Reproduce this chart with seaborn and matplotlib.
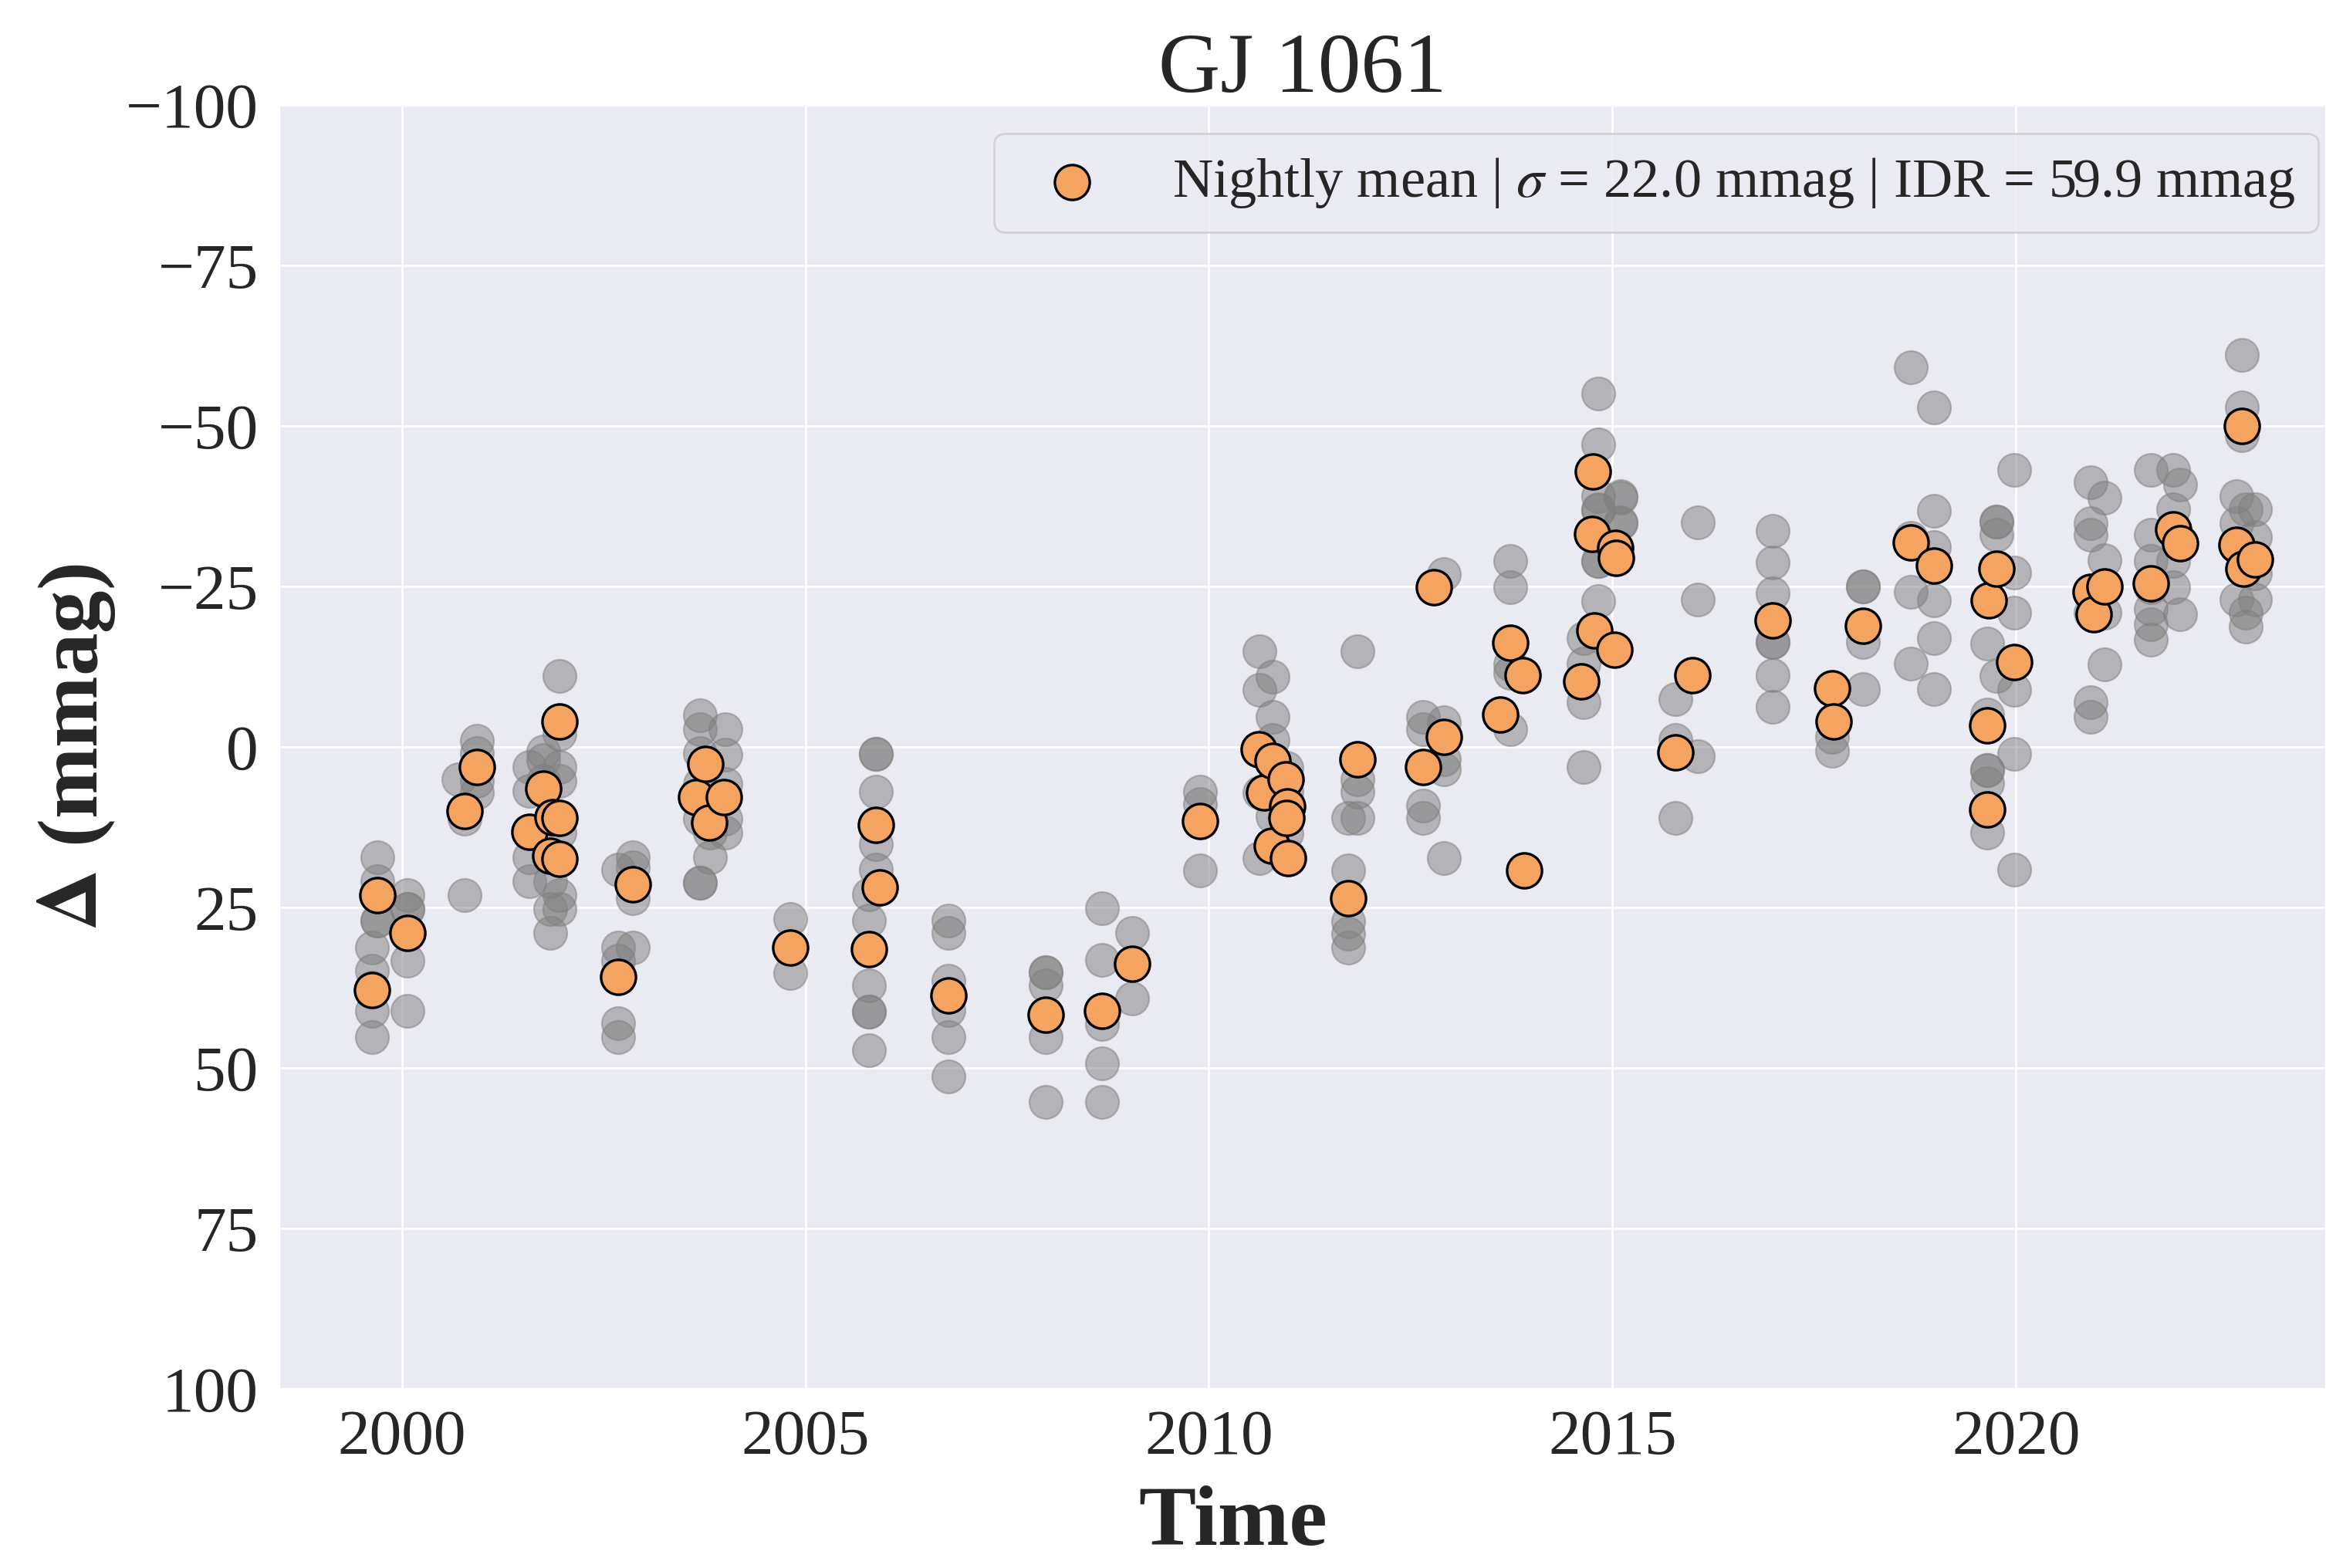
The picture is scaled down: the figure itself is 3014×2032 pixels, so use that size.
import numpy as np
import pandas as pd
import matplotlib
matplotlib.use('Agg')
import matplotlib.pyplot as plt
import seaborn as sns

# Individual measurements (grey) - decimal year, delta mag [mmag]
obs_time = [
    1999.63, 1999.63, 1999.63, 1999.63, 1999.63,
    1999.70, 1999.70, 1999.70, 1999.70, 1999.70,
    2000.07, 2000.07, 2000.07, 2000.07, 2000.07,
    2000.70, 2000.78, 2000.78, 2000.78,
    2000.93, 2000.93, 2000.93, 2000.93,
    2001.58, 2001.58, 2001.58, 2001.58, 2001.58,
    2001.75, 2001.75, 2001.75,
    2001.95, 2001.95, 2001.95, 2001.95, 2001.95, 2001.95, 2001.95,
    2001.84, 2001.84, 2001.84,
    2002.68, 2002.68, 2002.68, 2002.68, 2002.68,
    2002.86, 2002.86, 2002.86, 2002.86,
    2003.69, 2003.69, 2003.69, 2003.69, 2003.69, 2003.69, 2003.69,
    2003.82, 2003.82, 2003.82,
    2004.01, 2004.01, 2004.01, 2004.01, 2004.01,
    2004.81, 2004.81,
    2005.87, 2005.87, 2005.87, 2005.87, 2005.87,
    2005.79, 2005.79, 2005.79, 2005.79, 2005.79, 2005.79,
    2006.77, 2006.77, 2006.77, 2006.77, 2006.77, 2006.77,
    2007.98, 2007.98, 2007.98, 2007.98, 2007.98,
    2008.68, 2008.68, 2008.68, 2008.68, 2008.68,
    2009.05, 2009.05,
    2009.89, 2009.89, 2009.89,
    2010.63, 2010.63, 2010.63, 2010.63,
    2010.79, 2010.79, 2010.79, 2010.79,
    2010.96, 2010.96, 2010.96,
    2011.84, 2011.84, 2011.84, 2011.84,
    2011.73, 2011.73, 2011.73, 2011.73, 2011.73,
    2012.65, 2012.65, 2012.65, 2012.65,
    2012.91, 2012.91, 2012.91, 2012.91, 2012.91,
    2013.73, 2013.73, 2013.73, 2013.73, 2013.73,
    2014.64, 2014.64, 2014.64, 2014.64,
    2014.82, 2014.82, 2014.82, 2014.82, 2014.82, 2014.82, 2014.82, 2014.82,
    2015.10, 2015.10, 2015.10, 2015.10,
    2016.06, 2016.06, 2016.06,
    2015.78, 2015.78, 2015.78,
    2016.98, 2016.98, 2016.98, 2016.98, 2016.98, 2016.98, 2016.98,
    2017.72, 2017.72, 2017.72,
    2018.10, 2018.10, 2018.10, 2018.10,
    2018.70, 2018.70, 2018.70, 2018.70,
    2018.98, 2018.98, 2018.98, 2018.98, 2018.98, 2018.98,
    2019.64, 2019.64, 2019.64, 2019.64, 2019.64, 2019.64,
    2019.76, 2019.76, 2019.76, 2019.76,
    2019.98, 2019.98, 2019.98, 2019.98, 2019.98, 2019.98,
    2020.92, 2020.92, 2020.92, 2020.92, 2020.92, 2020.92,
    2021.10, 2021.10, 2021.10, 2021.10,
    2021.67, 2021.67, 2021.67, 2021.67, 2021.67, 2021.67, 2021.67,
    2021.95, 2021.95, 2021.95, 2021.95,
    2022.03, 2022.03,
    2022.80, 2022.80, 2022.80,
    2022.73, 2022.73, 2022.73,
    2022.85, 2022.85, 2022.85,
    2022.96, 2022.96, 2022.96, 2022.96,
]
obs_dmag = [
    31.2, 34.9, 37.5, 41.1, 45.2,
    17.2, 20.9, 23.1, 27.1, 27.1,
    23.1, 25.2, 25.2, 33.3, 41.1,
    5.0, 10.0, 11.2, 23.1,
    -0.9, 1.0, 5.3, 7.1,
    3.1, 6.9, 13.4, 17.2, 20.9,
    0.7, 2.1, 5.3,
    -11.0, -2.0, 3.1, 5.3, 13.4, 23.1, 25.2,
    25.2, 29.0, 20.9,
    19.1, 31.2, 33.3, 43.0, 45.2,
    17.2, 18.7, 23.6, 31.2,
    -4.9, -2.8, 1.0, 5.8, 11.2, 21.2, 21.2,
    13.4, 17.2, 11.2,
    -2.8, 1.2, 5.8, 11.2, 13.4,
    26.8, 35.2,
    1.1, 1.1, 7.0, 15.1, 19.1,
    23.0, 27.0, 37.2, 41.2, 41.2, 47.3,
    27.0, 29.0, 36.4, 41.0, 45.2, 51.3,
    35.1, 35.1, 37.1, 45.2, 55.3,
    25.1, 33.2, 43.1, 49.3, 55.3,
    29.0, 39.2,
    7.0, 8.9, 19.2,
    -14.9, -8.9, 7.1, 17.3,
    -10.9, -4.7, -1.1, 10.8,
    3.2, 7.0, 13.5,
    -14.9, 5.1, 7.0, 11.1,
    11.1, 19.2, 27.2, 29.1, 31.3,
    -4.7, -2.7, 9.2, 11.1,
    -26.9, -3.8, 1.9, 3.5, 17.3,
    -29.0, -24.9, -12.9, -11.5, -2.7,
    -17.0, -13.0, -7.0, 3.1,
    -55.0, -47.1, -39.1, -37.0, -29.0, -29.0, -22.7, -36.9,
    -39.0, -35.0, -38.8, -34.9,
    -35.0, -22.9, 1.4,
    -7.4, -1.1, 11.1,
    -33.7, -28.7, -23.9, -16.3, -16.3, -11.2, -6.2,
    -9.1, -1.5, 0.6,
    -25.0, -25.0, -16.3, -9.0,
    -59.1, -32.6, -24.1, -13.0,
    -52.9, -36.8, -31.1, -22.8, -16.9, -9.0,
    -16.1, 3.6, 3.6, 5.6, 13.3, -5.0,
    -35.1, -35.1, -33.0, -11.1,
    -43.1, -27.1, -20.9, -8.9, 1.1, 19.1,
    -41.2, -34.8, -33.0, -20.9, -7.0, -4.7,
    -38.8, -29.1, -20.9, -12.9,
    -43.1, -33.0, -28.9, -24.9, -21.5, -19.1, -16.7,
    -43.1, -37.0, -28.9, -24.9,
    -40.9, -20.7,
    -61.1, -52.9, -48.6,
    -39.1, -34.8, -22.9,
    -37.0, -20.9, -18.8,
    -37.0, -32.7, -22.9, -27.0,
]

# Nightly means (orange)
night_time = [
    1999.63, 1999.70, 2000.07, 2000.78, 2000.93,
    2001.58, 2001.75, 2001.84, 2001.87, 2001.95, 2001.95, 2001.95,
    2002.68, 2002.86,
    2003.65, 2003.76, 2003.81, 2003.99,
    2004.81,
    2005.79, 2005.87, 2005.92,
    2006.77, 2007.98, 2008.68, 2009.05, 2009.89,
    2010.62, 2010.68, 2010.79, 2010.78, 2010.95, 2010.97, 2010.98, 2010.96,
    2011.73, 2011.84,
    2012.65, 2012.79, 2012.91,
    2013.61, 2013.73, 2013.89, 2013.91,
    2014.61, 2014.75, 2014.76, 2014.78, 2015.02, 2015.03, 2015.04,
    2015.78, 2015.99,
    2016.98, 2017.72, 2017.74, 2018.10, 2018.70, 2018.98,
    2019.64, 2019.64, 2019.66, 2019.76, 2019.98,
    2020.92, 2020.96, 2021.10,
    2021.67, 2021.95, 2022.03,
    2022.73, 2022.80, 2022.82, 2022.96,
]
night_dmag = [
    37.9, 23.1, 29.0, 10.0, 3.1,
    13.2, 6.5, 16.9, 11.0, 11.1, 17.4, -3.9,
    35.8, 21.4,
    7.8, 2.6, 11.8, 7.8,
    31.3,
    31.5, 12.2, 21.9,
    38.7, 41.7, 41.1, 33.8, 11.5,
    0.4, 7.1, 2.2, 15.4, 5.0, 9.3, 17.3, 11.1,
    23.6, 1.9,
    3.1, -24.9, -1.6,
    -5.0, -16.2, -11.2, 19.2,
    -10.2, -33.2, -42.9, -18.1, -15.1, -31.0, -29.5,
    0.9, -11.2,
    -19.7, -9.1, -4.0, -18.9, -31.9, -28.2,
    -3.3, 9.8, -22.8, -27.8, -13.2,
    -24.1, -20.7, -25.0,
    -25.5, -33.9, -31.7,
    -31.5, -50.0, -27.7, -29.2,
]

star_name = 'GJ 1061'
legend_label = r'Nightly mean | $\sigma$ = 22.0 mmag | IDR = 59.9 mmag'
y_ticks = [-100, -75, -50, -25, 0, 25, 50, 75, 100]

df_obs = pd.DataFrame({'time': obs_time, 'dmag': obs_dmag})
df_night = pd.DataFrame({'time': night_time, 'dmag': night_dmag})

sns.set_theme(style='darkgrid')
plt.rcParams['font.family'] = ['Liberation Serif', 'DejaVu Serif']
plt.rcParams['mathtext.fontset'] = 'stix'

fig = plt.figure(figsize=(15.07, 10.16), dpi=200)
ax = fig.add_axes([0.1198, 0.1142, 0.8802, 0.8189])

# raw points, then nightly means on top
sns.scatterplot(data=df_obs, x='time', y='dmag', ax=ax, color='grey',
                alpha=0.5, s=240, edgecolor='grey', linewidth=0.8, zorder=2)
sns.scatterplot(data=df_night, x='time', y='dmag', ax=ax, color='sandybrown',
                s=265, edgecolor='black', linewidth=1.2, zorder=3,
                label=legend_label)

ax.set_xlim(1998.475, 2023.84)
ax.set_ylim(100, -100)
ax.set_yticks(y_ticks)
ax.tick_params(axis='both', labelsize=30)
ax.set_xlabel('Time', fontsize=40, fontweight='bold')
ax.xaxis.set_label_coords(0.466, -0.075)
ax.set_ylabel(r'$\mathbf{\Delta}$ (mmag)', fontsize=40, fontweight='bold')
ax.set_title(star_name, fontsize=40)

ax.legend(loc='upper right', bbox_to_anchor=(0.9962, 0.9778), borderaxespad=0,
          fontsize=26, frameon=True)

fig.savefig('out.png', dpi=200)
